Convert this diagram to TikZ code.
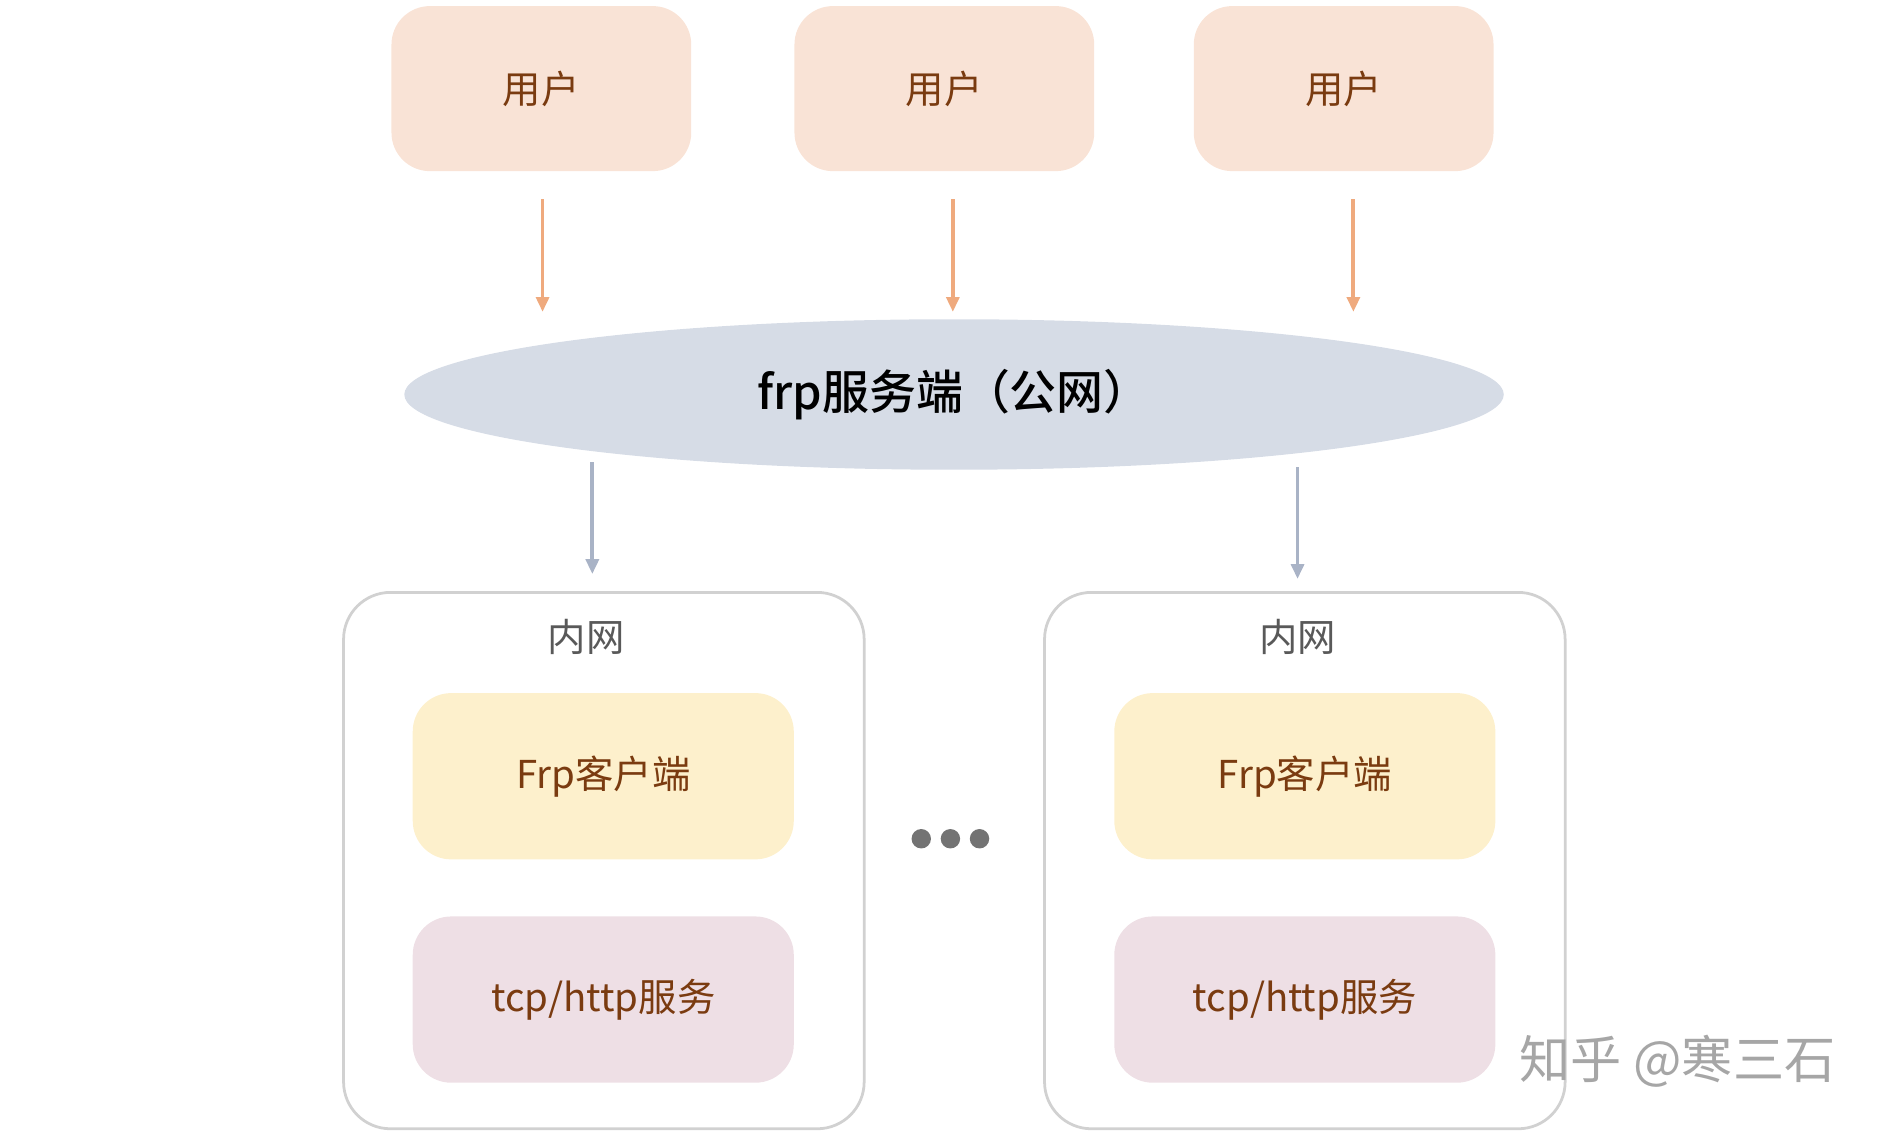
\documentclass[tikz,border=0pt]{standalone}
\usepackage{fontspec}
\setmainfont{Noto Sans CJK SC}
\newfontfamily\medfont{Noto Sans CJK SC Medium}
\usetikzlibrary{shapes.geometric,arrows.meta,positioning}
\definecolor{userfill}{HTML}{F9E3D6}
\definecolor{usertext}{HTML}{7A3B10}
\definecolor{orangearrow}{HTML}{EFAA7E}
\definecolor{serverfill}{HTML}{D6DCE6}
\definecolor{grayarrow}{HTML}{A9B3C6}
\definecolor{clientfill}{HTML}{FDF0CC}
\definecolor{svcfill}{HTML}{EEDFE5}
\tikzset{
  box/.style={rounded corners=18pt,minimum width=247*0.2mm,minimum height=136*0.2mm,text=usertext,font=\fontsize{18}{21}\selectfont},
  user/.style={box,fill=userfill},
  inner/.style={box,minimum width=314*0.2mm,minimum height=137*0.2mm},
  lan/.style={draw=black!18,line width=1.3pt,rounded corners=22pt,minimum width=429*0.2mm,minimum height=442*0.2mm},
}
\begin{document}
\begin{tikzpicture}[x=0.02cm,y=-0.02cm,>={Triangle[length=7pt,width=6pt]}]
	\useasboundingbox (0,0) rectangle (1567,937);
	% users
	\node[user] (u_1) at (446,73) {用户};
	\node[user] (u_2) at (778,73) {用户};
	\node[user] (u_3) at (1107,73) {用户};
	% server
	\node[ellipse,fill=serverfill,minimum width=906*0.2mm,minimum height=124*0.2mm,font=\fontsize{22}{25}\selectfont\medfont] (srv) at (786,325) {frp服务端（公网）};
	% lans
	\node[lan] (lan_1) at (497.5,709) {};
	\node[lan] (lan_2) at (1075,709) {};
	\node[text=black!65,font=\fontsize{18}{21}\selectfont] (t_1) at (483,525) {内网};
	\node[text=black!65,font=\fontsize{18}{21}\selectfont] (t_2) at (1069,525) {内网};
	\node[inner,fill=clientfill] (c_1) at (497,639.5) {Frp客户端};
	\node[inner,fill=svcfill] (s_1) at (497,823.5) {tcp/http服务};
	\node[inner,fill=clientfill] (c_2) at (1075,639.5) {Frp客户端};
	\node[inner,fill=svcfill] (s_2) at (1075,823.5) {tcp/http服务};
	\foreach \x in {759,783,807}
		\fill[black!55] (\x,691) circle (8);
	% arrows
	\coordinate (a_1) at (447,164);  \coordinate (b_1) at (447,257);
	\coordinate (a_2) at (785,164);  \coordinate (b_2) at (785,257);
	\coordinate (a_3) at (1115,164); \coordinate (b_3) at (1115,257);
	\foreach \i in {1,2,3}
		\draw[->,orangearrow,line width=1.8pt] (a_\i) -- (b_\i);
	\coordinate (d_1) at (488,473);
	\coordinate (d_2) at (1069,477);
	\draw[->,grayarrow,line width=1.8pt] (488,381) -- (d_1);
	\draw[->,grayarrow,line width=1.8pt] (1069,385) -- (d_2);
	% watermark
	\node[text=black!35,font=\fontsize{24}{28}\selectfont] (wm) at (1382,874) {知乎 @寒三石};
\end{tikzpicture}
\end{document}
